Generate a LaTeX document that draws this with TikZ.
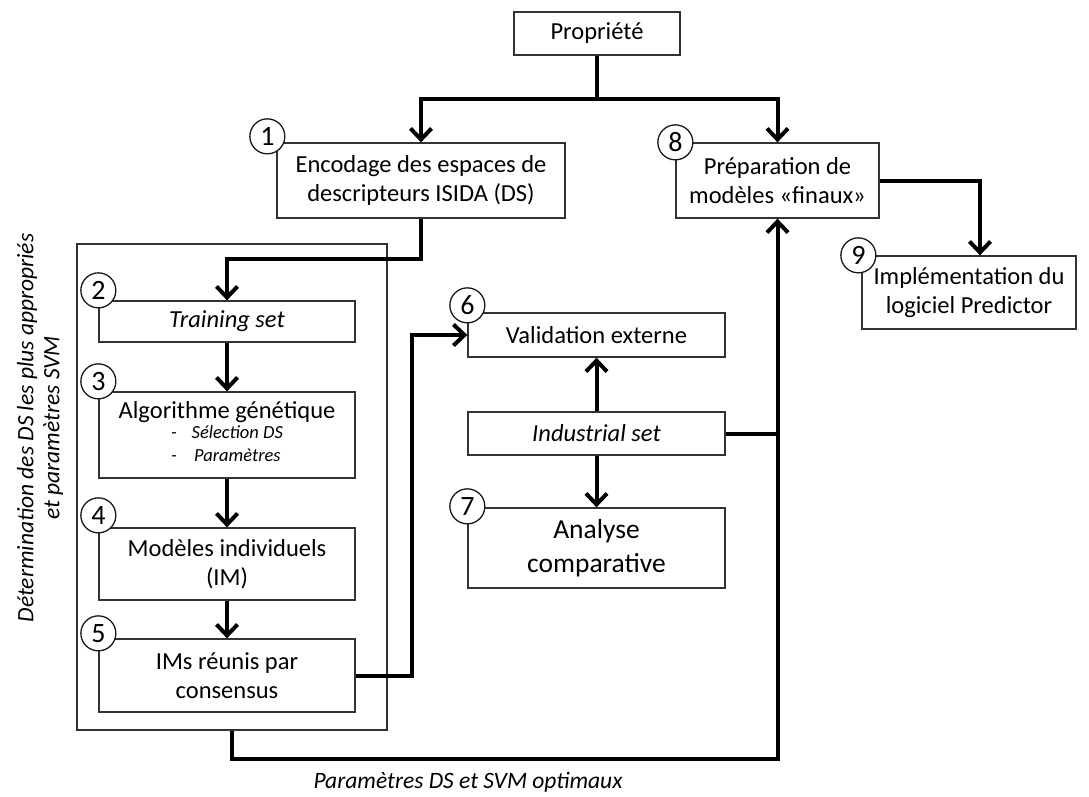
\documentclass[tikz,border=0pt]{standalone}
\usepackage{fontspec}
\setmainfont{Carlito}
\usetikzlibrary{arrows.meta}

\begin{document}
\begin{tikzpicture}[
x=1pt, y=-1pt,
every node/.style={align=center, inner sep=0pt, font=\fontsize{24.5}{29}\selectfont},
box/.style 2 args={draw=black!80, line width=1.3pt, minimum width=#1pt, minimum height=#2pt},
num/.style={circle, draw=black!90, line width=1.3pt, fill=white, minimum size=35pt, font=\fontsize{28}{28}\selectfont},
link/.style={line width=4pt},
flow/.style={link, -{Straight Barb[length=11pt, width=21pt]}}
]
\useasboundingbox (0,0) rectangle (1089,796);

% Nodes
\node[box={166}{43}] (prop) at (597,33.5) {Propriété};
\node[box={288}{75}] (enc) at (421,180.5) {Encodage des espaces de\\descripteurs ISIDA (DS)};
\node[box={203}{75}] (prep) at (777.5,180.5) {Préparation de\\modèles «finaux»};
\node[box={214}{73}] (impl) at (969,292.5) {Implémentation du\\logiciel Predictor};

\node[box={310}{486}] (frame) at (232,487) {};
\node[box={256}{41}] (train) at (227,321.5) {\itshape Training set};
\node[box={256}{86}] (algo) at (227,435) {Algorithme génétique\\[-1pt]
  {\fontsize{18.5}{23}\selectfont\itshape
  \begin{tabular}{@{}c@{\hspace{15pt}}c@{}}-&Sélection DS\\-&Paramètres\end{tabular}}};
\node[box={256}{72}] (indiv) at (227,564) {Modèles individuels\\(IM)};
\node[box={256}{73}] (cons) at (227,675.5) {IMs réunis par\\consensus};

\node[box={257}{44}] (valid) at (596.5,335) {Validation externe};
\node[box={257}{43}] (indus) at (596.5,433.5) {\itshape Industrial set};
\node[box={257}{80}, font=\fontsize{27.5}{34}\selectfont] (anal) at (596.5,548) {Analyse\\comparative};

% Numbers
\node[num] (n1) at ([xshift=-9pt,yshift=6pt]enc.north west) {1};
\node[num] (n2) at ([yshift=10pt]train.north west) {2};
\node[num] (n3) at ([yshift=10pt]algo.north west) {3};
\node[num] (n4) at ([yshift=12pt]indiv.north west) {4};
\node[num] (n5) at ([yshift=5pt]cons.north west) {5};
\node[num] (n6) at ([yshift=7pt]valid.north west) {6};
\node[num] (n7) at ([yshift=1pt]anal.north west) {7};
\node[num] (n8) at (prep.north west) {8};
\node[num] (n9) at ([xshift=-3pt]impl.north west) {9};

% Labels
\node[font=\itshape\fontsize{23.5}{26}\selectfont, rotate=90] (side) at (40,428)
  {Détermination des DS les plus appropriés\\et paramètres SVM};
\node[font=\itshape\fontsize{23.5}{28}\selectfont] (optim) at (468,782)
  {Paramètres DS et SVM optimaux};

% Arrows
\coordinate (split) at (597,99);
\draw[link] (prop) -- (split);
\draw[flow] (split) -| (enc);
\draw[flow] (split) -| (prep);
\draw[flow] (enc.south) -- ++(0,40) -| (train);
\draw[flow] (train) -- (algo);
\draw[flow] (algo) -- (indiv);
\draw[flow] (indiv) -- (cons);
\draw[flow] (cons.east) -- ++(56,0) |- (valid);
\draw[flow] (indus) -- (valid);
\draw[flow] (indus) -- (anal);
\draw[link] (indus) -- (indus -| prep);
\draw[flow] (frame.south) -- ++(0,28) -| (prep);
\draw[flow] (prep) -| ([xshift=11pt]impl.north);
\end{tikzpicture}
\end{document}
